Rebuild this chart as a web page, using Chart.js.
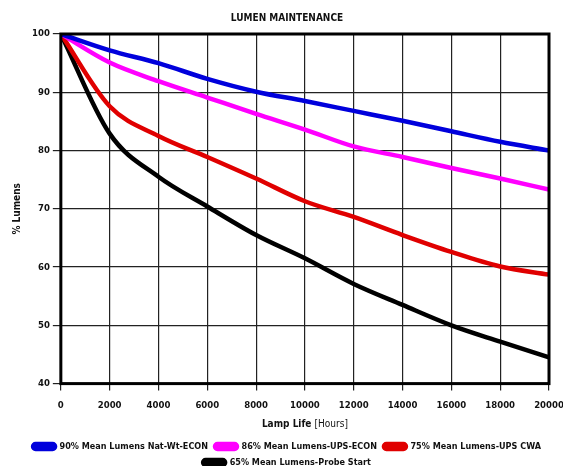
<!DOCTYPE html>
<html>
<head>
<meta charset="utf-8">
<script src="https://cdn.jsdelivr.net/npm/chart.js@4.4.1/dist/chart.umd.min.js"></script>
<style>
    html, body { margin: 0; padding: 0; background: #fff; }
    #wrap { width: 563px; height: 466px; }
</style>
</head>
<body>
<div id="wrap"><canvas id="chart1"></canvas></div>
<script>
const hours = [0, 2000, 4000, 6000, 8000, 10000, 12000, 14000, 16000, 18000, 20000];
const natWtEcon = [100, 97.2, 95.0, 92.3, 90.1, 88.5, 86.8, 85.1, 83.3, 81.5, 80.0];
const upsEcon = [100, 95.1, 91.9, 89.1, 86.3, 83.6, 80.7, 78.9, 77.0, 75.2, 73.3];
const upsCwa = [100, 87.6, 82.5, 78.9, 75.2, 71.3, 68.6, 65.5, 62.6, 60.1, 58.7];
const probeStart = [100, 82.9, 75.5, 70.4, 65.5, 61.5, 57.1, 53.5, 50.0, 47.2, 44.5];
const yTicks = [40, 50, 60, 70, 80, 90, 100];

const FONT = "'DejaVu Sans Condensed', 'Liberation Sans', Arial, sans-serif";

function points(values) {
    return values.map((v, i) => ({ x: hours[i], y: v }));
}

function series(label, values, color) {
    return {
        label: label,
        data: points(values),
        borderColor: color,
        backgroundColor: color,
        borderWidth: 4.5,
        pointRadius: 0,
        fill: false,
        cubicInterpolationMode: 'monotone'
    };
}

// рамка вокруг области графика
const frame = {
    id: 'frame',
    afterDatasetsDraw(chart) {
        const a = chart.chartArea;
        const ctx = chart.ctx;
        ctx.save();
        ctx.strokeStyle = '#000';
        ctx.lineWidth = 3;
        ctx.strokeRect(a.left, a.top, a.right - a.left, a.bottom - a.top);
        ctx.restore();
    }
};

// подпись оси X: жирное + обычное
const xTitle = {
    id: 'xTitle',
    afterDraw(chart) {
        const ctx = chart.ctx;
        const a = chart.chartArea;
        const cx = (a.left + a.right) / 2;
        const y = a.bottom + 41;
        ctx.save();
        ctx.textBaseline = 'middle';
        ctx.fillStyle = '#111';
        const b = 'bold 10px ' + FONT;
        const n = '10px ' + FONT;
        ctx.font = b;
        const w1 = ctx.measureText('Lamp Life ').width;
        ctx.font = n;
        const w2 = ctx.measureText('[Hours]').width;
        const x0 = cx - (w1 + w2) / 2;
        ctx.font = b;
        ctx.textAlign = 'left';
        ctx.fillText('Lamp Life ', x0, y);
        ctx.font = n;
        ctx.fillText('[Hours]', x0 + w1, y);
        ctx.restore();
    }
};

document.addEventListener('DOMContentLoaded', () => {
    const el = document.getElementById('chart1');
    new Chart(el.getContext('2d'), {
        type: 'line',
        data: {
            datasets: [
                series('90% Mean Lumens Nat-Wt-ECON', natWtEcon, '#0000dc'),
                series('86% Mean Lumens-UPS-ECON', upsEcon, '#ff00ff'),
                series('75% Mean Lumens-UPS CWA', upsCwa, '#e00000'),
                series('65% Mean Lumens-Probe Start', probeStart, '#000000')
            ]
        },
        plugins: [frame, xTitle],
        options: {
            animation: false,
            maintainAspectRatio: false,
            layout: {
                padding: { left: 11, right: 0, top: 0, bottom: -11 }
            },
            plugins: {
                title: {
                    display: true,
                    text: 'LUMEN MAINTENANCE',
                    color: '#111',
                    font: { family: FONT, size: 10, weight: 'bold' },
                    padding: { top: 12, bottom: 10 }
                },
                legend: {
                    position: 'bottom',
                    labels: {
                        color: '#111',
                        font: { family: FONT, size: 9, weight: 'bold' },
                        boxWidth: 22,
                        boxHeight: 5,
                        useBorderRadius: true,
                        borderRadius: 2.5,
                        padding: 7
                    }
                },
                tooltip: { enabled: false }
            },
            scales: {
                x: {
                    type: 'linear',
                    min: 0,
                    max: 20000,
                    afterFit(scale) {
                        scale.paddingRight = 14;
                    },
                    ticks: {
                        stepSize: 2000,
                        color: '#111',
                        padding: 9,
                        maxRotation: 0,
                        font: { family: FONT, size: 9.5, weight: 'bold' },
                        callback: v => String(v)
                    },
                    grid: { color: '#222', lineWidth: 1.2, tickLength: 7 },
                    border: { display: false },
                    title: {
                        display: true,
                        text: 'Lamp Life [Hours]',
                        color: 'rgba(0,0,0,0)',
                        font: { family: FONT, size: 10 },
                        padding: { top: 0, bottom: 3 }
                    }
                },
                y: {
                    min: 40,
                    max: 100,
                    afterBuildTicks(scale) {
                        scale.ticks = yTicks.map(v => ({ value: v }));
                    },
                    ticks: {
                        color: '#111',
                        padding: 3,
                        font: { family: FONT, size: 9.5, weight: 'bold' },
                        callback: v => String(v)
                    },
                    grid: { color: '#222', lineWidth: 1.2, tickLength: 8 },
                    border: { display: false },
                    title: {
                        display: true,
                        text: '% Lumens',
                        color: '#111',
                        font: { family: FONT, size: 10, weight: 'bold' },
                        padding: { top: 0, bottom: 6 }
                    }
                }
            }
        }
    });
});
</script>
</body>
</html>
